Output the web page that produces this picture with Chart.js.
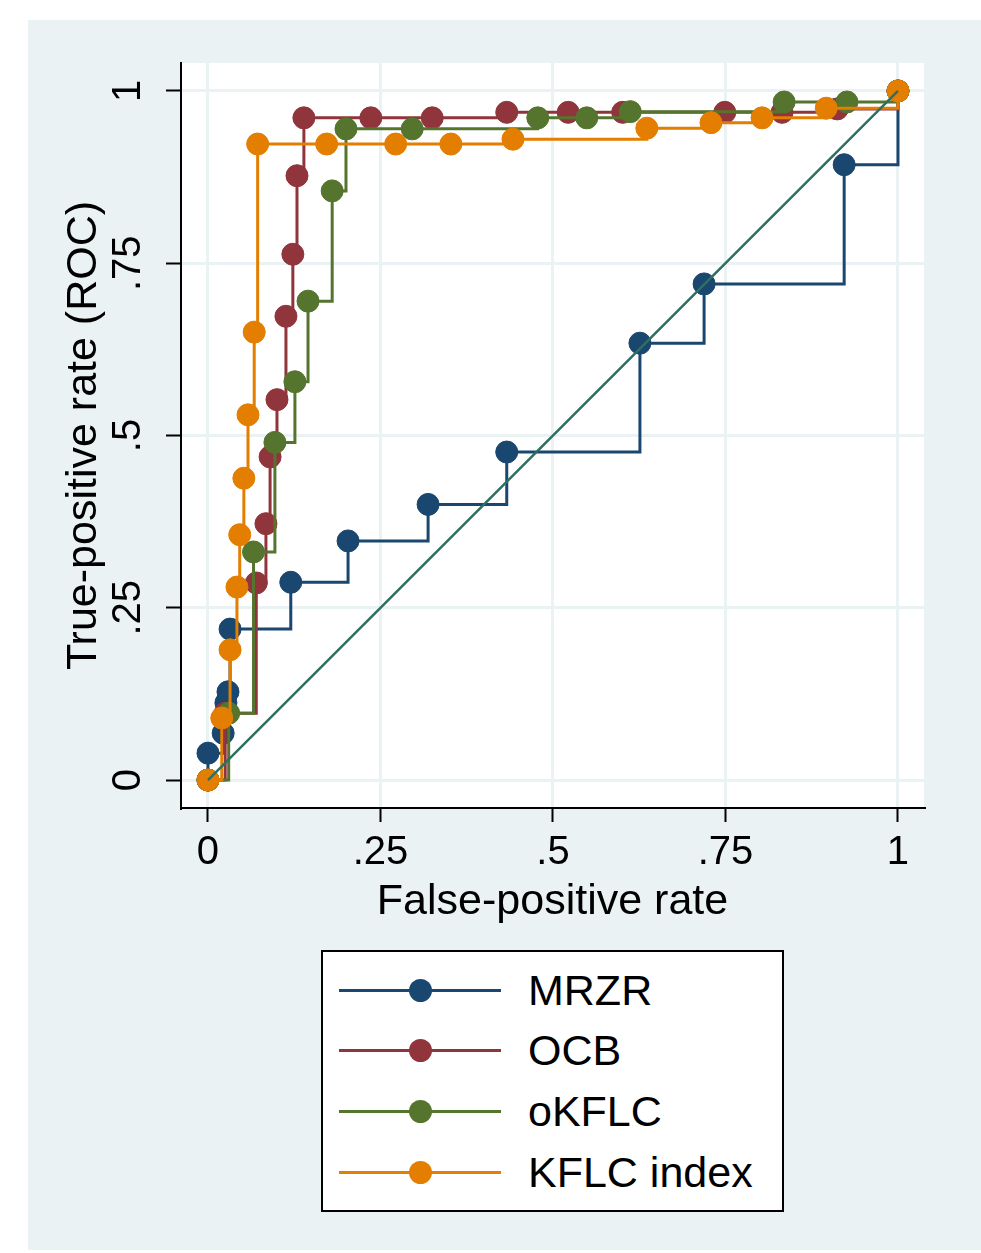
<!DOCTYPE html>
<html>
<head>
<meta charset="utf-8">
<title>ROC comparison</title>
<script src="https://cdn.jsdelivr.net/npm/chart.js@4.4.0/dist/chart.umd.min.js"></script>
<style>
  body { margin: 0; background: #fff; font-family: 'Liberation Sans', Arial, Helvetica, sans-serif; }
  #panel { position: absolute; left: 28px; top: 20px; width: 953px; height: 1230px; background: #eaf2f3; }
  #rocChart { position: absolute; left: 0; top: 0; }
  #legend { position: absolute; left: 321px; top: 950px; width: 463px; height: 262px; box-sizing: border-box; border: 2px solid #000; background: #fff; }
  .row { position: absolute; left: 0; width: 100%; height: 60px; }
  .row .line { position: absolute; left: 16px; top: 28.5px; width: 162px; height: 3px; }
  .row .dot { position: absolute; left: 86px; top: 18.5px; width: 23px; height: 23px; border-radius: 50%; }
  .row .label { position: absolute; left: 205px; top: 0; line-height: 60px; font-size: 43px; color: #000; white-space: nowrap; }
</style>
</head>
<body>
<div id="panel"></div>
<canvas id="rocChart" width="981" height="940"></canvas>
<div id="legend"></div>
<script>
// ROC points (false-positive rate, true-positive rate)
const fprMRZR = [0, 0, 0.022, 0.026, 0.029, 0.032, 0.12, 0.203, 0.319, 0.433, 0.626, 0.719, 0.922, 1];
const tprMRZR = [0, 0.039, 0.068, 0.112, 0.128, 0.219, 0.287, 0.347, 0.4, 0.476, 0.634, 0.72, 0.893, 1];

const fprOCB = [0, 0.025, 0.07, 0.084, 0.09, 0.1, 0.113, 0.123, 0.129, 0.139, 0.236, 0.325, 0.433, 0.522, 0.601, 0.749, 0.832, 0.912, 1];
const tprOCB = [0, 0.097, 0.286, 0.372, 0.469, 0.552, 0.673, 0.763, 0.877, 0.961, 0.961, 0.961, 0.969, 0.969, 0.969, 0.969, 0.969, 0.974, 1];

const fprOKFLC = [0, 0.03, 0.066, 0.097, 0.126, 0.145, 0.18, 0.2, 0.296, 0.478, 0.549, 0.612, 0.835, 0.926, 1];
const tprOKFLC = [0, 0.097, 0.331, 0.49, 0.578, 0.695, 0.855, 0.945, 0.945, 0.961, 0.961, 0.97, 0.984, 0.984, 1];

const fprKFLC = [0, 0.02, 0.032, 0.042, 0.046, 0.052, 0.058, 0.067, 0.072, 0.172, 0.272, 0.352, 0.442, 0.636, 0.729, 0.803, 0.896, 1];
const tprKFLC = [0, 0.09, 0.189, 0.28, 0.356, 0.438, 0.53, 0.65, 0.923, 0.923, 0.923, 0.923, 0.93, 0.946, 0.954, 0.961, 0.975, 1];

const refLine = [0, 1];

const seriesNames = ['MRZR', 'OCB', 'oKFLC', 'KFLC index'];
const seriesColors = ['#1a476f', '#90353b', '#55752f', '#e37e00'];
const refColor = '#2e6f62';
const axisTicks = [0, 0.25, 0.5, 0.75, 1];

const FONT = "'Liberation Sans', Arial, Helvetica, sans-serif";

const toPoints = (xs, ys) => xs.map((x, i) => ({ x: x, y: ys[i] }));

const curves = [
  toPoints(fprMRZR, tprMRZR),
  toPoints(fprOCB, tprOCB),
  toPoints(fprOKFLC, tprOKFLC),
  toPoints(fprKFLC, tprKFLC)
];

const datasets = curves.map((pts, i) => ({
  label: seriesNames[i],
  data: pts,
  borderColor: seriesColors[i],
  backgroundColor: seriesColors[i],
  pointBackgroundColor: seriesColors[i],
  pointBorderColor: seriesColors[i],
  pointRadius: 11,
  pointBorderWidth: 1,
  borderWidth: 3,
  stepped: true,
  fill: false,
  order: 4 - i
}));

// 45-degree reference line, drawn on top
datasets.push({
  label: 'reference',
  data: toPoints(refLine, refLine),
  borderColor: refColor,
  borderWidth: 2.5,
  pointRadius: 0,
  fill: false,
  order: 0
});

const tickLabel = v => String(v).replace(/^0\./, '.');

// white plot region behind the grid
const plotBackground = {
  id: 'plotBackground',
  beforeDraw(chart) {
    const { ctx, chartArea: a } = chart;
    ctx.save();
    ctx.fillStyle = '#ffffff';
    ctx.fillRect(a.left, a.top, a.right - a.left, a.bottom - a.top);
    ctx.restore();
  }
};

const ctx = document.getElementById('rocChart').getContext('2d');
const rocChart = new Chart(ctx, {
  type: 'line',
  data: { datasets: datasets },
  plugins: [plotBackground],
  options: {
    responsive: false,
    animation: false,
    layout: { padding: { left: 0, top: 63, right: 57, bottom: 0 } },
    plugins: {
      legend: { display: false },
      tooltip: { enabled: false }
    },
    scales: {
      x: {
        type: 'linear',
        min: -0.0391,
        max: 1.0377,
        afterBuildTicks: scale => { scale.ticks = axisTicks.map(v => ({ value: v })); },
        afterFit: scale => { scale.height = 132; },
        ticks: {
          callback: tickLabel,
          color: '#000',
          padding: 7,
          maxRotation: 0,
          font: { family: FONT, size: 40 }
        },
        grid: { color: '#eaf2f3', lineWidth: 3, tickColor: '#000', tickWidth: 2, tickLength: 14 },
        border: { display: true, color: '#000', width: 2 },
        title: {
          display: true,
          text: 'False-positive rate',
          color: '#000',
          font: { family: FONT, size: 43 },
          padding: { top: 0, bottom: 12 }
        }
      },
      y: {
        type: 'linear',
        min: -0.0406,
        max: 1.0406,
        afterBuildTicks: scale => { scale.ticks = axisTicks.map(v => ({ value: v })); },
        afterFit: scale => { scale.width = 181; },
        ticks: {
          callback: tickLabel,
          color: '#000',
          padding: 9,
          minRotation: 90,
          maxRotation: 90,
          crossAlign: 'center',
          font: { family: FONT, size: 40 }
        },
        grid: { color: '#eaf2f3', lineWidth: 3, tickColor: '#000', tickWidth: 2, tickLength: 15 },
        border: { display: true, color: '#000', width: 2 },
        title: {
          display: true,
          text: 'True-positive rate (ROC)',
          color: '#000',
          font: { family: FONT, size: 43 },
          padding: { top: 58, bottom: 0 }
        }
      }
    }
  }
});

// Legend box below the plot
const legendBox = document.getElementById('legend');
const rowCenters = [38, 98, 159, 220];
seriesNames.forEach((name, i) => {
  const row = document.createElement('div');
  row.className = 'row';
  row.style.top = (rowCenters[i] - 30) + 'px';

  const line = document.createElement('div');
  line.className = 'line';
  line.style.background = seriesColors[i];

  const dot = document.createElement('div');
  dot.className = 'dot';
  dot.style.background = seriesColors[i];

  const label = document.createElement('span');
  label.className = 'label';
  label.textContent = name;

  row.appendChild(line);
  row.appendChild(dot);
  row.appendChild(label);
  legendBox.appendChild(row);
});
</script>
</body>
</html>
